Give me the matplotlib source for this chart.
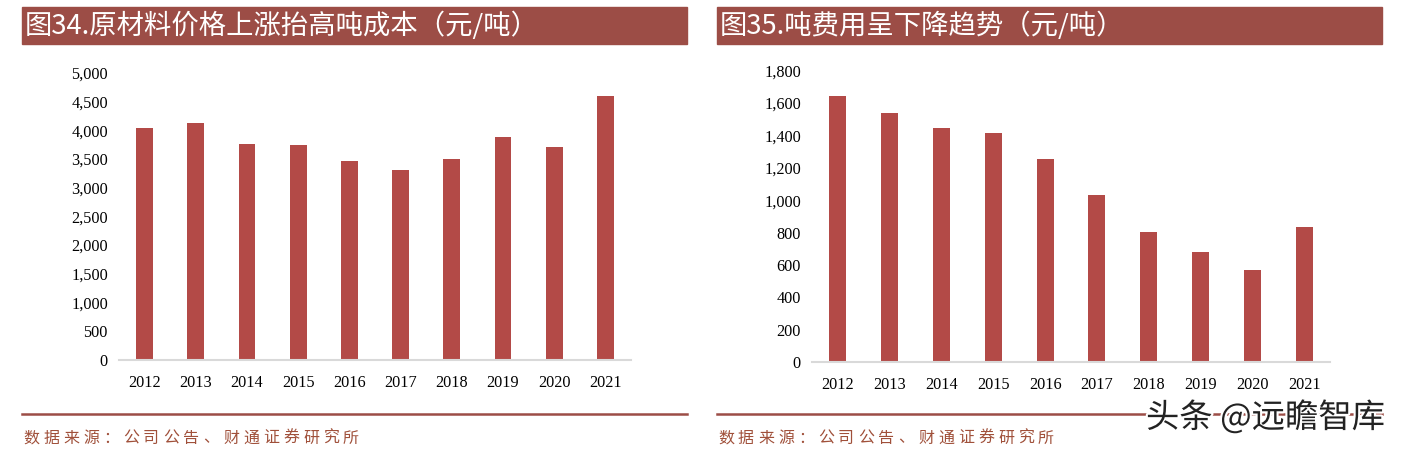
import matplotlib
matplotlib.use('Agg')
import matplotlib.pyplot as plt
import matplotlib.patheffects as pe
from matplotlib.patches import Rectangle
from matplotlib.ticker import FuncFormatter

plt.rcParams['font.family'] = ['Noto Sans CJK SC', 'DejaVu Sans']

# data
years = ['2012', '2013', '2014', '2015', '2016', '2017', '2018', '2019', '2020', '2021']
cost_per_ton = [4035, 4120, 3755, 3740, 3460, 3305, 3495, 3880, 3705, 4595]
fee_per_ton = [1644, 1539, 1446, 1415, 1255, 1033, 804, 681, 570, 835]

title_left = '图34.原材料价格上涨抬高吨成本（元/吨）'
title_right = '图35.吨费用呈下降趋势（元/吨）'
source_text = '数据来源：公司公告、财通证券研究所'
watermark = '头条 @远瞻智库'

W, H = 1421, 455
bar_color = '#B34A47'
band_color = '#9C4D46'
source_color = '#A0503A'

fig = plt.figure(figsize=(W / 100, H / 100), dpi=100)


def px_axes(x0, x1, y_top, y_bot):
    # pixel box (from top-left) -> figure fractions
    return fig.add_axes([x0 / W, 1 - y_bot / H, (x1 - x0) / W, (y_bot - y_top) / H])


def draw_panel(x0, x1, title, ax_box, values, ymax, ystep):
    # title band
    fig.patches.append(Rectangle((x0 / W, 1 - 44.3 / H), (x1 - x0) / W, 37 / H,
                                 transform=fig.transFigure, color=band_color, zorder=0))
    fig.text((x0 + 3) / W, 1 - 26 / H, title, color='white', fontsize=19.7,
             va='center', ha='left')

    ax = px_axes(*ax_box)
    ax.bar(range(len(years)), values, width=0.33, color=bar_color, zorder=2)
    ax.set_xlim(-0.5, len(years) - 0.5)
    ax.set_ylim(0, ymax)
    ax.set_yticks(range(0, ymax + 1, ystep))
    ax.yaxis.set_major_formatter(FuncFormatter(lambda v, p: f'{int(v):,}'))
    ax.set_xticks(range(len(years)))
    ax.set_xticklabels(years)
    for s in ['top', 'right', 'left']:
        ax.spines[s].set_visible(False)
    ax.spines['bottom'].set_color('#D9D9D9')
    ax.spines['bottom'].set_linewidth(1.5)
    ax.tick_params(axis='both', length=0, labelsize=11.7)
    ax.tick_params(axis='y', pad=8)
    ax.tick_params(axis='x', pad=11)
    for lab in ax.get_xticklabels() + ax.get_yticklabels():
        lab.set_fontfamily('Liberation Serif')

    # bottom rule and source line
    fig.add_artist(plt.Line2D([x0 / W, x1 / W], [1 - 413.7 / H, 1 - 413.7 / H],
                              color=band_color, linewidth=1.8))
    step = 20.0
    for i, ch in enumerate(source_text):
        fig.text((x0 + 1 + i * step) / W, 1 - 438 / H, ch, color=source_color,
                 fontsize=11.5, va='center', ha='left')


draw_panel(22, 687, title_left, (119, 631, 72.7, 360), cost_per_ton, 5000, 500)
draw_panel(717, 1382, title_right, (812, 1330, 70.7, 362), fee_per_ton, 1800, 200)

fig.text(1146 / W, 1 - 418 / H, watermark, color='#222222', fontsize=24,
         va='center', ha='left',
         path_effects=[pe.withStroke(linewidth=3, foreground='white')])

fig.savefig('out.png', dpi=100)
